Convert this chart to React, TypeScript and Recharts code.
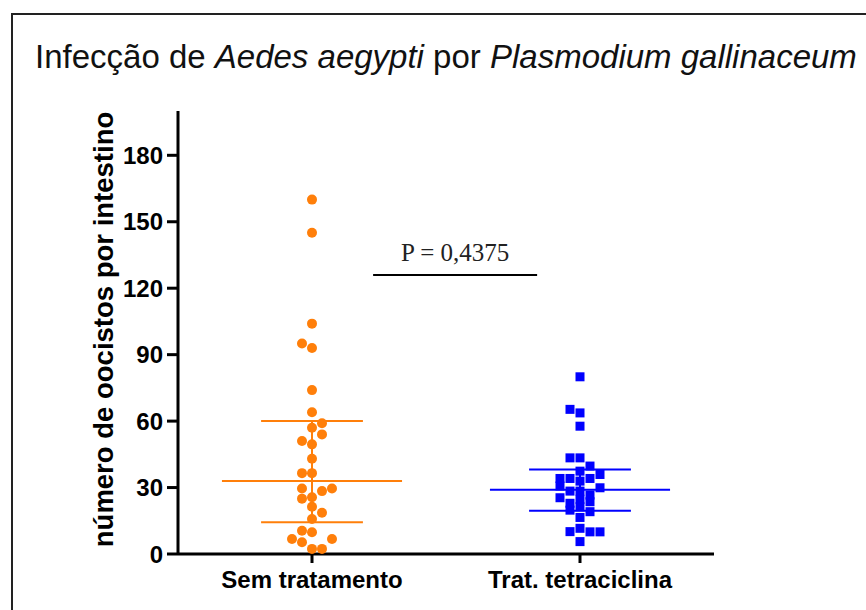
import React from 'react';
import { ScatterChart, Scatter, XAxis, YAxis, ReferenceLine, Label } from 'recharts';

const categories = ['Sem tratamento', 'Trat. tetraciclina'];
const yTicks = [0, 30, 60, 90, 120, 150, 180];

// Sem tratamento: oocyst counts and beeswarm column slot
const semValues = [160, 145, 104, 95, 93, 74, 64, 59, 57, 54, 51, 49.5, 43, 36.5, 36.5, 29.6, 28.4, 29.6, 25, 25.6, 21.3, 18.6, 15.8, 10.5, 9.8, 6.8, 5.3, 6.8, 2.3, 2.3];
const semSlots = [0, 0, 0, -1, 0, 0, 0, 1, 0, 1, -1, 0, 0, -1, 0, -1, 1, 2, -1, 0, 0, 1, 0, -1, 0, -2, -1, 2, 0, 1];

// Trat. tetraciclina
const tetValues = [80, 65.3, 63.7, 57.7, 43.4, 43.4, 39.7, 37.4, 35.9, 34.1, 34.1, 34.1, 30.7, 32.9, 29.9, 28.4, 28.4, 25.4, 26.6, 23.6, 24.7, 22.9, 19.8, 21.3, 19.1, 16.5, 10.1, 11.6, 10, 10, 5.6];
const tetSlots = [0, -1, 0, 0, -1, 0, 1, 0, 2, -2, -1, 1, -2, 0, 2, -1, 0, -2, 1, 1, 0, -1, -1, 0, 1, 0, -1, 0, 1, 2, 0];

// Summary lines: centre, upper and lower bars
const summaryMid = [33, 29];
const summaryUpper = [60, 38.2];
const summaryLower = [14.3, 19.5];

const pText = 'P = 0,4375';
const pLineY = 126;
const pLineX = [0.728, 1.34];

const ORANGE = '#FF7F0A';
const BLUE = '#0000FF';

const semData = semValues.map((y, i) => ({ x: 0.5, y, slot: semSlots[i] }));
const tetData = tetValues.map((y, i) => ({ x: 1.5, y, slot: tetSlots[i] }));

const CircleShape = (props: any) => {
  const slot = props.payload?.slot ?? 0;
  return <circle cx={props.cx + slot * 10} cy={props.cy} r={5} fill={ORANGE} />;
};
const SquareShape = (props: any) => {
  const slot = props.payload?.slot ?? 0;
  return <rect x={props.cx + slot * 10 - 4.5} y={props.cy - 4.5} width={9} height={9} fill={BLUE} />;
};

const tickFont = { fontFamily: 'Liberation Sans, Arial, sans-serif', fontWeight: 'bold', fontSize: 24, fill: '#000' };

export default function App() {
  const meanHalf = 0.336;
  const barHalf = 0.19;
  return (
    <div style={{ position: 'absolute', left: 0, top: 0, width: 866, height: 610, overflow: 'hidden', background: '#fff' }}>
      <div style={{ position: 'absolute', left: 11, top: 13, width: 1000, height: 1000, borderLeft: '2px solid #222', borderTop: '2px solid #222' }} />
      <div style={{ position: 'absolute', left: 35, top: 38, fontFamily: 'Liberation Sans, Arial, sans-serif', fontSize: 33, color: '#111', whiteSpace: 'nowrap', lineHeight: '38px' }}>
        Infecção de <i>Aedes aegypti</i> por <i>Plasmodium gallinaceum</i>
      </div>
      <div style={{ position: 'absolute', left: 0, top: 0 }}>
        <ScatterChart width={866} height={610} margin={{ top: 111, right: 152, bottom: 0, left: 0 }}>
          <XAxis
            type="number"
            dataKey="x"
            domain={[0, 2]}
            ticks={[0.5, 1.5]}
            tickFormatter={(v: number) => categories[Math.round(v - 0.5)]}
            height={56}
            axisLine={{ stroke: '#000', strokeWidth: 3 }}
            tickLine={{ stroke: '#000', strokeWidth: 3 }}
            tickSize={9}
            tickMargin={8}
            tick={tickFont}
            interval={0}
          />
          <YAxis
            type="number"
            dataKey="y"
            domain={[0, 200]}
            ticks={yTicks}
            width={178}
            axisLine={{ stroke: '#000', strokeWidth: 3 }}
            tickLine={{ stroke: '#000', strokeWidth: 3 }}
            tickSize={11}
            tickMargin={4}
            tick={tickFont}
            interval={0}
          >
            <Label
              position="center"
              content={(p: any) => {
                const vb = p.viewBox || { x: 0, y: 111, width: 178, height: 443 };
                const cx = vb.x + 103;
                const cy = vb.y + vb.height / 2 - 3;
                return (
                  <text
                    x={cx}
                    y={cy}
                    transform={`rotate(-90 ${cx} ${cy})`}
                    textAnchor="middle"
                    dominantBaseline="central"
                    style={{ fontFamily: 'Liberation Sans, Arial, sans-serif', fontWeight: 'bold', fontSize: 27.5, fill: '#000' }}
                  >
                    número de oocistos por intestino
                  </text>
                );
              }}
            />
          </YAxis>
          {categories.map((c, i) => (
            <ReferenceLine key={`m${i}`} segment={[{ x: i + 0.5 - meanHalf, y: summaryMid[i] }, { x: i + 0.5 + meanHalf, y: summaryMid[i] }]} stroke={i === 0 ? ORANGE : BLUE} strokeWidth={2} />
          ))}
          {categories.map((c, i) => (
            <ReferenceLine key={`u${i}`} segment={[{ x: i + 0.5 - barHalf, y: summaryUpper[i] }, { x: i + 0.5 + barHalf, y: summaryUpper[i] }]} stroke={i === 0 ? ORANGE : BLUE} strokeWidth={2} />
          ))}
          {categories.map((c, i) => (
            <ReferenceLine key={`l${i}`} segment={[{ x: i + 0.5 - barHalf, y: summaryLower[i] }, { x: i + 0.5 + barHalf, y: summaryLower[i] }]} stroke={i === 0 ? ORANGE : BLUE} strokeWidth={2} />
          ))}
          {categories.map((c, i) => (
            <ReferenceLine key={`v${i}`} segment={[{ x: i + 0.5, y: summaryLower[i] }, { x: i + 0.5, y: summaryUpper[i] }]} stroke={i === 0 ? ORANGE : BLUE} strokeWidth={2} />
          ))}
          <ReferenceLine segment={[{ x: pLineX[0], y: pLineY }, { x: pLineX[1], y: pLineY }]} stroke="#000" strokeWidth={2}>
            <Label value={pText} position="top" offset={14} style={{ fontFamily: 'Liberation Serif, Times New Roman, serif', fontSize: 25, fill: '#222' }} />
          </ReferenceLine>
          <Scatter data={semData} fill={ORANGE} shape={CircleShape} isAnimationActive={false} />
          <Scatter data={tetData} fill={BLUE} shape={SquareShape} isAnimationActive={false} />
        </ScatterChart>
      </div>
    </div>
  );
}
